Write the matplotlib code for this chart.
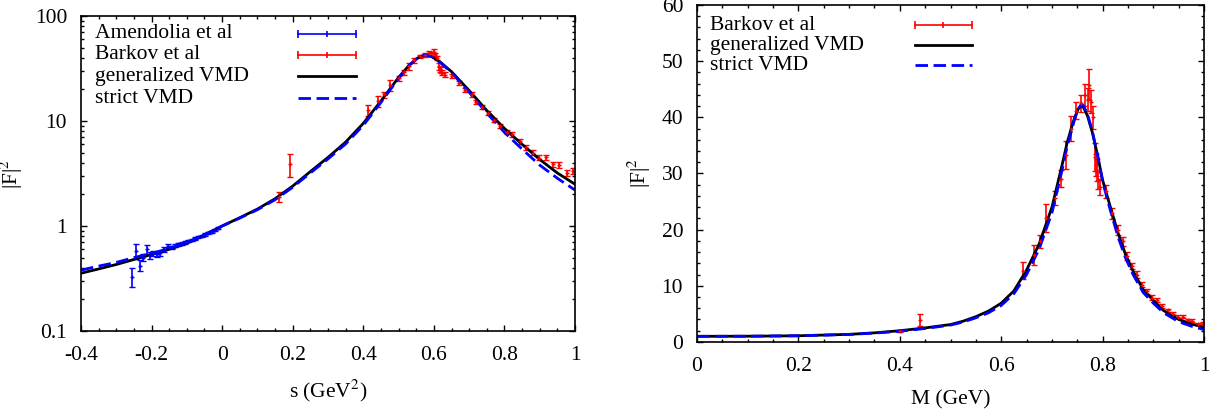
import numpy as np
import matplotlib
matplotlib.use("Agg")
import matplotlib.pyplot as plt
from matplotlib.ticker import MultipleLocator, LogLocator, NullFormatter

plt.rcParams["font.family"] = "Liberation Serif"
plt.rcParams["mathtext.fontset"] = "stix"
plt.rcParams["font.size"] = 15.5

# Amendolia et al (spacelike data), s in GeV^2
amend_s = [-0.254, -0.244, -0.233, -0.224, -0.214, -0.205, -0.195, -0.185, -0.176,
           -0.165, -0.153, -0.143, -0.134, -0.124, -0.115, -0.105, -0.096, -0.086,
           -0.077, -0.067, -0.058, -0.048, -0.039, -0.029, -0.020, -0.012]
amend_F2 = [0.33, 0.58, 0.42, 0.50, 0.60, 0.53, 0.55, 0.54, 0.55,
            0.60, 0.65, 0.63, 0.65, 0.67, 0.68, 0.70, 0.72, 0.74,
            0.76, 0.79, 0.80, 0.83, 0.86, 0.88, 0.92, 0.95]
amend_err = [0.07, 0.09, 0.05, 0.04, 0.06, 0.04, 0.03, 0.03, 0.03,
             0.03, 0.03, 0.02, 0.02, 0.02, 0.02, 0.02, 0.02, 0.02,
             0.02, 0.02, 0.02, 0.02, 0.02, 0.02, 0.02, 0.02]

# Barkov et al (timelike data), M in GeV
barkov_M = [0.400, 0.440, 0.643, 0.664, 0.677, 0.689, 0.707, 0.718, 0.728, 0.738,
            0.748, 0.758, 0.766, 0.771, 0.774, 0.777, 0.781, 0.784, 0.786, 0.788,
            0.790, 0.794, 0.807, 0.819, 0.830, 0.841, 0.848, 0.858, 0.868, 0.877,
            0.888, 0.898, 0.907, 0.918, 0.928, 0.938, 0.948, 0.958, 0.968, 0.977,
            0.988, 0.997]
barkov_F2 = [1.9, 3.9, 12.7, 15.5, 17.9, 22.0, 25.6, 29.1, 33.3, 38.0,
             41.2, 42.5, 44.0, 43.2, 45.8, 42.8, 40.0, 33.0, 31.5, 30.6,
             28.8, 27.6, 26.8, 22.9, 19.9, 17.9, 15.3, 13.5, 12.0, 10.2,
             9.0, 7.9, 7.5, 6.45, 5.6, 4.99, 4.47, 4.5, 3.87, 3.81,
             3.22, 3.36]
barkov_err = [0.2, 1.0, 1.5, 1.8, 1.2, 2.5, 1.3, 1.5, 2.5, 2.2,
              1.5, 1.5, 2.0, 2.0, 2.8, 2.0, 2.0, 2.5, 2.0, 2.0,
              1.5, 1.5, 1.2, 1.0, 0.9, 0.8, 0.7, 0.6, 0.55, 0.5,
              0.45, 0.4, 0.4, 0.35, 0.3, 0.28, 0.25, 0.25, 0.22, 0.22,
              0.2, 0.2]

# model curves, left panel (vs s)
curve_s = [-0.4, -0.35, -0.3, -0.25, -0.2, -0.15, -0.1, -0.05, 0.0, 0.05, 0.1,
           0.15, 0.2, 0.25, 0.3, 0.35, 0.4, 0.45, 0.5, 0.53, 0.555, 0.575, 0.595,
           0.62, 0.65, 0.7, 0.75, 0.8, 0.85, 0.9, 0.95, 1.0]
gen_s = [0.355, 0.39, 0.43, 0.48, 0.535, 0.60, 0.685, 0.82, 1.0, 1.2, 1.45,
         1.82, 2.4, 3.3, 4.5, 6.3, 9.5, 15.5, 26.0, 34.0, 40.0, 42.5, 41.0,
         36.0, 29.5, 19.5, 12.6, 8.5, 6.0, 4.3, 3.2, 2.5]
strict_s = [0.38, 0.415, 0.45, 0.50, 0.55, 0.61, 0.69, 0.83, 1.0, 1.19, 1.43,
            1.78, 2.34, 3.2, 4.35, 6.05, 9.1, 15.0, 25.5, 33.8, 40.2, 42.8, 41.0,
            35.6, 29.0, 18.8, 11.9, 7.8, 5.4, 3.8, 2.85, 2.2]

# model curves, right panel (vs M)
curve_M = [0.0, 0.1, 0.2, 0.3, 0.35, 0.4, 0.45, 0.5, 0.525, 0.55, 0.575, 0.6,
           0.625, 0.65, 0.675, 0.7, 0.72, 0.73, 0.74, 0.745, 0.752, 0.757, 0.762,
           0.77, 0.78, 0.79, 0.8, 0.815, 0.83, 0.845, 0.86, 0.88, 0.9, 0.92, 0.95,
           0.975, 1.0]
gen_M = [1.0, 1.02, 1.1, 1.35, 1.62, 2.0, 2.5, 3.1, 3.7, 4.5, 5.5, 6.9,
         9.1, 12.8, 17.5, 24.0, 31.5, 35.5, 38.6, 40.0, 41.5, 42.0, 41.8,
         40.3, 37.2, 33.2, 28.8, 24.1, 19.5, 15.6, 12.6, 9.3, 7.4, 5.6, 4.0,
         3.2, 2.6]
strict_M = [1.0, 1.02, 1.1, 1.33, 1.58, 1.9, 2.4, 3.0, 3.55, 4.3, 5.2, 6.5,
            8.6, 12.0, 16.6, 23.0, 30.6, 34.8, 38.0, 39.8, 41.5, 42.2, 42.1,
            40.6, 37.4, 33.2, 28.5, 23.5, 18.8, 15.0, 12.0, 8.8, 6.9, 5.2, 3.6,
            2.8, 2.2]

s_ticks = [-0.4, -0.2, 0, 0.2, 0.4, 0.6, 0.8, 1]
s_labels = ["-0.4", "-0.2", "0", "0.2", "0.4", "0.6", "0.8", "1"]
logF_ticks = [0.1, 1, 10, 100]
logF_labels = ["0.1", "1", "10", "100"]
M_ticks = [0, 0.2, 0.4, 0.6, 0.8, 1]
M_labels = ["0", "0.2", "0.4", "0.6", "0.8", "1"]

RED = "#ff0000"
BLUE = "#0000ff"
DASH = (0, (4.5, 2.0))

fig = plt.figure(figsize=(12.25, 4.17), dpi=100)
ax1 = fig.add_axes([0.0661, 0.2062, 0.4033, 0.7554])
ax2 = fig.add_axes([0.569, 0.18, 0.4139, 0.808])

eb_kw = dict(fmt="+", ms=3, mew=1.0, elinewidth=1.2, capsize=2.2, capthick=1.2)

# left: log scale vs s
ax1.errorbar(amend_s, amend_F2, yerr=amend_err, color=BLUE, **eb_kw)
barkov_s = np.array(barkov_M) ** 2
ax1.errorbar(barkov_s, barkov_F2, yerr=barkov_err, color=RED, **eb_kw)
ax1.plot(curve_s, gen_s, color="black", lw=2.0)
ax1.plot(curve_s, strict_s, color=BLUE, lw=2.0, linestyle=DASH)
ax1.set_yscale("log")
ax1.set_xlim(-0.4, 1)
ax1.set_ylim(0.1, 100)
ax1.set_xticks(s_ticks)
ax1.set_xticklabels(s_labels)
ax1.set_yticks(logF_ticks)
ax1.set_yticklabels(logF_labels)
ax1.xaxis.set_minor_locator(MultipleLocator(0.05))
ax1.yaxis.set_minor_locator(LogLocator(subs=np.arange(2, 10)))
ax1.yaxis.set_minor_formatter(NullFormatter())
ax1.set_xlabel("s (GeV$^2$)")
ax1.set_ylabel("|F|$^2$")
ax1.yaxis.set_label_coords(-0.113, 0.5)
ax1.xaxis.set_label_coords(0.5, -0.15)

# right: linear scale vs M
ax2.errorbar(barkov_M, barkov_F2, yerr=barkov_err, color=RED, **eb_kw)
ax2.plot(curve_M, gen_M, color="black", lw=2.0)
ax2.plot(curve_M, strict_M, color=BLUE, lw=2.0, linestyle=DASH)
ax2.set_xlim(0, 1)
ax2.set_ylim(0, 60)
ax2.set_xticks(M_ticks)
ax2.set_xticklabels(M_labels)
ax2.yaxis.set_major_locator(MultipleLocator(10))
ax2.xaxis.set_minor_locator(MultipleLocator(0.05))
ax2.yaxis.set_minor_locator(MultipleLocator(2))
ax2.set_xlabel("M (GeV)")
ax2.set_ylabel("|F|$^2$")
ax2.yaxis.set_label_coords(-0.087, 0.5)
ax2.xaxis.set_label_coords(0.5, -0.142)

for ax in (ax1, ax2):
    ax.tick_params(which="both", direction="in", top=True, right=True, width=1.0)
    ax.tick_params(which="major", length=4)
    ax.tick_params(which="minor", length=2.4)
    ax.tick_params(axis="x", which="major", pad=11)
    ax.tick_params(axis="y", which="major", pad=10)
    for sp in ax.spines.values():
        sp.set_linewidth(1.2)


# gnuplot-like key: label on the left, sample on the right
def draw_key(ax, labels, styles, x_text, x0, x1, rows):
    for lab, st, y in zip(labels, styles, rows):
        ax.text(x_text, y, lab, transform=ax.transAxes, ha="left", va="center")
        if st[0] == "err":
            c = st[1]
            ax.plot([x0, x1], [y, y], transform=ax.transAxes, color=c, lw=1.2,
                    marker="|", ms=6, mew=1.2, clip_on=False)
            ax.plot([(x0 + x1) / 2], [y], transform=ax.transAxes, color=c,
                    marker="|", ms=4, mew=1.2, clip_on=False)
        else:
            ax.plot([x0, x1], [y, y], transform=ax.transAxes, color=st[1], lw=2.0,
                    linestyle=st[2], clip_on=False)


draw_key(ax1, ["Amendolia et al", "Barkov et al", "generalized VMD", "strict VMD"],
         [("err", BLUE), ("err", RED), ("line", "black", "-"), ("line", BLUE, DASH)],
         0.0283, 0.439, 0.557, [0.943, 0.877, 0.808, 0.739])
draw_key(ax2, ["Barkov et al", "generalized VMD", "strict VMD"],
         [("err", RED), ("line", "black", "-"), ("line", BLUE, DASH)],
         0.0256, 0.430, 0.542, [0.940, 0.880, 0.821])

fig.savefig("out.png", dpi=100)
